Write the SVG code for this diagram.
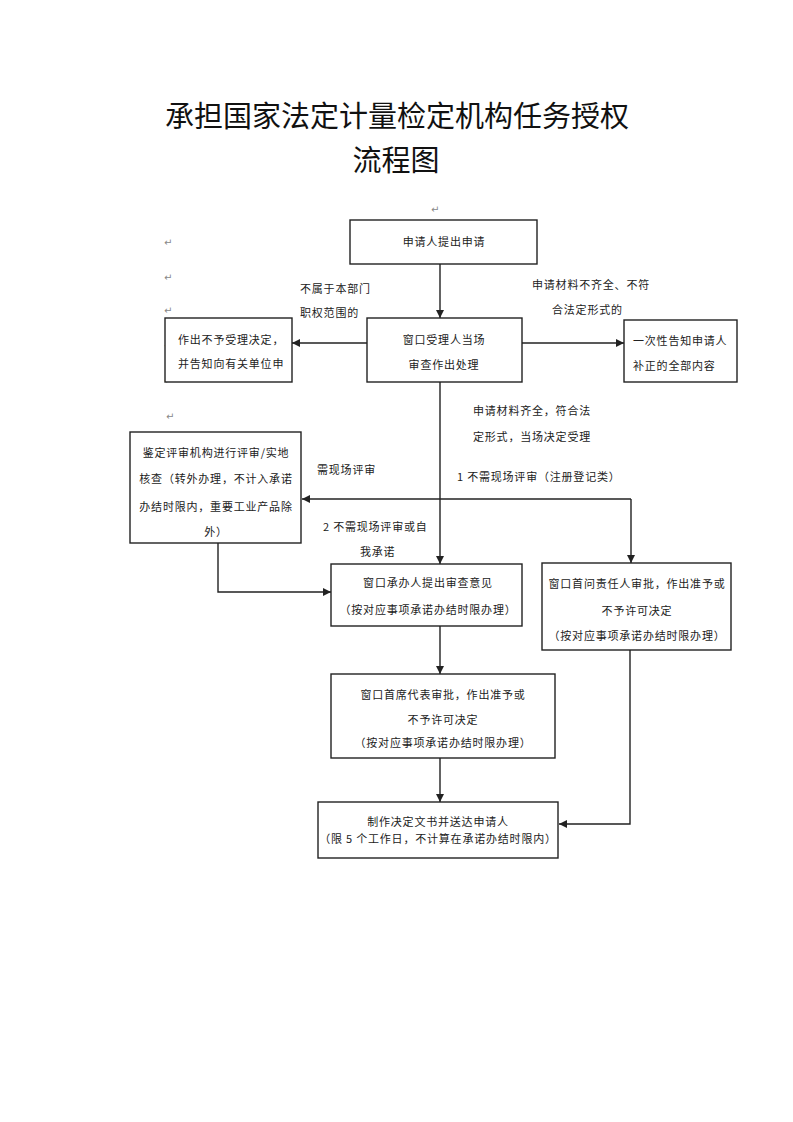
<svg xmlns="http://www.w3.org/2000/svg" width="793" height="1122" viewBox="0 0 793 1122">
<style>
.t{font-family:"Noto Sans CJK SC","Noto Sans",sans-serif;font-size:11px;fill:#222;letter-spacing:0.8px}
.c{text-anchor:middle}
.title{font-family:"Noto Sans CJK SC","Noto Sans",sans-serif;font-size:29px;fill:#111;text-anchor:middle}
.box{fill:#fff;stroke:#222;stroke-width:1.4}
.ln{fill:none;stroke:#222;stroke-width:1.4}
.pm{font-family:"DejaVu Sans",sans-serif;font-size:10px;fill:#888}
</style>
<defs>
<marker id="ah" viewBox="0 0 10 10" refX="10" refY="5" markerWidth="8" markerHeight="8" markerUnits="userSpaceOnUse" orient="auto">
<path d="M0,0 L10,5 L0,10 z" fill="#222"/>
</marker>
</defs>
<rect width="793" height="1122" fill="#fff"/>
<g id="title">
<text class="title" x="397" y="127">承担国家法定计量检定机构任务授权</text>
<text class="title" x="396" y="171">流程图</text>
</g>
<g id="marks">
<text class="pm" x="431" y="213">↵</text>
<text class="pm" x="164" y="246">↵</text>
<text class="pm" x="164" y="281">↵</text>
<text class="pm" x="164" y="314">↵</text>
<text class="pm" x="164" y="349">↵</text>
<text class="pm" x="164" y="384">↵</text>
<text class="pm" x="166" y="420">↵</text>
</g>
<g id="connectors">
<line class="ln" x1="440" y1="264" x2="440" y2="318" marker-end="url(#ah)"/>
<line class="ln" x1="367" y1="343" x2="292" y2="343" marker-end="url(#ah)"/>
<line class="ln" x1="522" y1="343" x2="624" y2="343" marker-end="url(#ah)"/>
<line class="ln" x1="440" y1="382" x2="440" y2="564" marker-end="url(#ah)"/>
<line class="ln" x1="631" y1="499" x2="302" y2="499" marker-end="url(#ah)"/>
<line class="ln" x1="631" y1="499" x2="631" y2="563" marker-end="url(#ah)"/>
<polyline class="ln" points="218,543 218,592 331,592" marker-end="url(#ah)"/>
<line class="ln" x1="440" y1="626" x2="440" y2="674" marker-end="url(#ah)"/>
<line class="ln" x1="440" y1="758" x2="440" y2="802" marker-end="url(#ah)"/>
<polyline class="ln" points="630,650 630,824 559,824" marker-end="url(#ah)"/>
</g>
<g id="labels">
<text class="t" x="300" y="293">不属于本部门</text>
<text class="t" x="300" y="317">职权范围的</text>
<text class="t" x="532" y="289">申请材料不齐全、不符</text>
<text class="t" x="552" y="314">合法定形式的</text>
<text class="t" x="473" y="415">申请材料齐全，符合法</text>
<text class="t" x="473" y="441">定形式，当场决定受理</text>
<text class="t" x="457" y="481">1 不需现场评审（注册登记类）</text>
<text class="t" x="317" y="474">需现场评审</text>
<text class="t" x="323" y="531">2 不需现场评审或自</text>
<text class="t" x="360" y="556">我承诺</text>
</g>
<g id="n1">
<rect class="box" x="350" y="220" width="187" height="44"/>
<text class="t c" x="444" y="246">申请人提出申请</text>
</g>
<g id="n2">
<rect class="box" x="367" y="318" width="155" height="64"/>
<text class="t c" x="444" y="344">窗口受理人当场</text>
<text class="t c" x="444" y="369">审查作出处理</text>
</g>
<g id="n3">
<rect class="box" x="165" y="318" width="127" height="64"/>
<text class="t" x="178" y="344">作出不予受理决定，</text>
<text class="t" x="178" y="368">并告知向有关单位申</text>
</g>
<g id="n4">
<rect class="box" x="624" y="320" width="113" height="62"/>
<text class="t" x="633" y="345">一次性告知申请人</text>
<text class="t" x="633" y="370">补正的全部内容</text>
</g>
<g id="n5">
<rect class="box" x="130" y="432" width="171" height="111"/>
<text class="t c" x="216" y="457">鉴定评审机构进行评审/实地</text>
<text class="t c" x="216" y="483">核查（转外办理，不计入承诺</text>
<text class="t c" x="216" y="511">办结时限内，重要工业产品除</text>
<text class="t c" x="216" y="536">外）</text>
</g>
<g id="n6">
<rect class="box" x="331" y="564" width="191" height="62"/>
<text class="t c" x="428" y="587">窗口承办人提出审查意见</text>
<text class="t c" x="428" y="614">（按对应事项承诺办结时限办理）</text>
</g>
<g id="n7">
<rect class="box" x="542" y="563" width="189" height="87"/>
<text class="t c" x="637" y="588">窗口首问责任人审批，作出准予或</text>
<text class="t c" x="637" y="615">不予许可决定</text>
<text class="t c" x="637" y="640">（按对应事项承诺办结时限办理）</text>
</g>
<g id="n8">
<rect class="box" x="331" y="674" width="224" height="84"/>
<text class="t c" x="443" y="699">窗口首席代表审批，作出准予或</text>
<text class="t c" x="443" y="724">不予许可决定</text>
<text class="t c" x="443" y="747">（按对应事项承诺办结时限办理）</text>
</g>
<g id="n9">
<rect class="box" x="318" y="802" width="240" height="56"/>
<text class="t c" x="438" y="826">制作决定文书并送达申请人</text>
<text class="t c" x="438" y="843">（限 5 个工作日，不计算在承诺办结时限内）</text>
</g>
</svg>
